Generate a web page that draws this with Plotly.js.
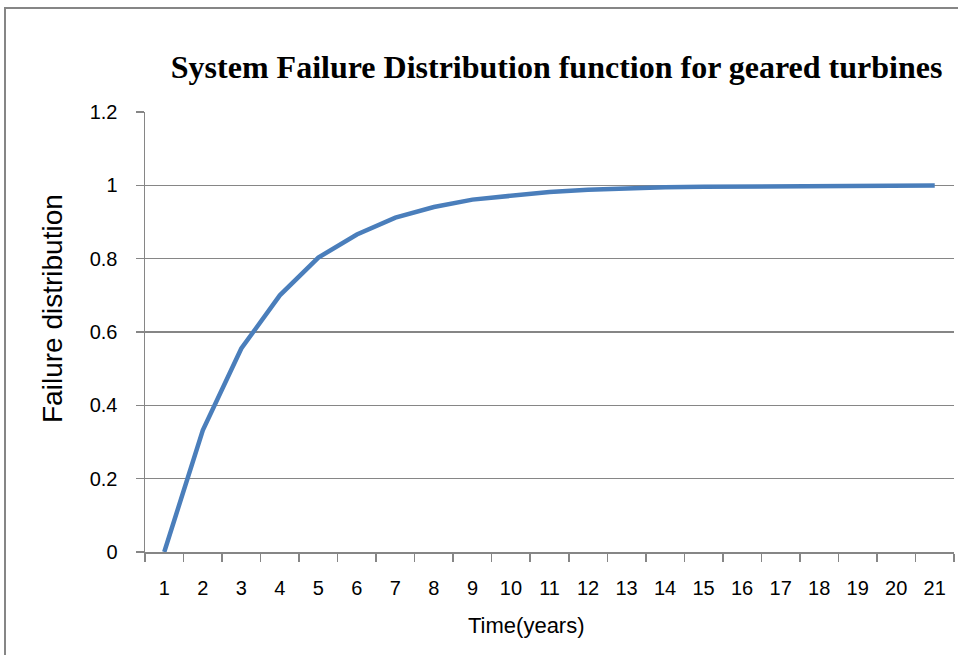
<!DOCTYPE html>
<html>
<head>
<meta charset="utf-8">
<script src="https://cdn.plot.ly/plotly-3.0.1.min.js"></script>
<style>
  html, body { margin: 0; padding: 0; background: #fff; overflow: hidden; }
  #chart { width: 958px; height: 655px; }
  #frame { position: absolute; left: 4px; top: 7px; width: 1200px; height: 900px;
           border-left: 2px solid #868686; border-top: 2px solid #868686; pointer-events: none; }
</style>
</head>
<body>
<div id="chart"></div>
<div id="frame"></div>
<script>
const years = ["1","2","3","4","5","6","7","8","9","10","11","12","13","14","15","16","17","18","19","20","21"];
const failureDistribution = [0, 0.332, 0.555, 0.700, 0.803, 0.866, 0.912, 0.941, 0.961, 0.973,
  0.982, 0.988, 0.992, 0.995, 0.996, 0.997, 0.998, 0.999, 0.999, 0.9995, 0.9997];
const yTicks = [0, 0.2, 0.4, 0.6, 0.8, 1, 1.2];
const yTickText = ["0", "0.2", "0.4", "0.6", "0.8", "1", "1.2"];
const xTitle = 'Time(years)';
const yTitle = 'Failure distribution';
const chartTitle = 'System Failure Distribution function for geared turbines';

const trace = {
  x: years,
  y: failureDistribution,
  type: 'scatter',
  mode: 'lines',
  line: { color: '#4a7ebb', width: 4.5 },
  hoverinfo: 'skip'
};

const sans = 'Liberation Sans, Arial, sans-serif';
const axisFont = { family: sans, size: 20, color: '#000' };

const layout = {
  width: 958, height: 655,
  margin: { l: 145, r: 4, t: 112, b: 103, pad: 0 },
  paper_bgcolor: '#fff',
  plot_bgcolor: '#fff',
  showlegend: false,
  title: {
    text: '<b>' + chartTitle + '</b>',
    font: { family: 'Liberation Serif, Times New Roman, serif', size: 32, color: '#000' },
    x: 0.581, xanchor: 'center', xref: 'container',
    y: 0.898, yanchor: 'middle', yref: 'container'
  },
  xaxis: {
    type: 'category',
    range: [-0.5, 20.5],
    showgrid: false,
    showline: true, linecolor: '#868686', linewidth: 1.5,
    ticks: 'outside', tickson: 'boundaries', ticklen: 8, tickcolor: '#868686', tickwidth: 1.5,
    tickfont: axisFont,
    ticklabelstandoff: 17,
    zeroline: false
  },
  yaxis: {
    range: [0, 1.2],
    tickvals: yTicks,
    ticktext: yTickText,
    showgrid: true, gridcolor: '#868686', gridwidth: 1.5,
    showline: true, linecolor: '#868686', linewidth: 1.5,
    ticks: 'outside', ticklen: 8, tickcolor: '#868686', tickwidth: 1.5,
    tickfont: axisFont,
    ticklabelstandoff: 14,
    zeroline: false
  },
  annotations: [
    { text: xTitle, xref: 'paper', yref: 'paper', x: 0.472, y: -0.168,
      xanchor: 'center', yanchor: 'middle', showarrow: false,
      font: { family: sans, size: 22, color: '#000' } },
    { text: yTitle, xref: 'paper', yref: 'paper', x: -0.115, y: 0.5545,
      xanchor: 'center', yanchor: 'middle', showarrow: false, textangle: -90,
      font: { family: sans, size: 28, color: '#000' } }
  ]
};

Plotly.newPlot('chart', [trace], layout, { displayModeBar: false, staticPlot: true });
</script>
</body>
</html>
